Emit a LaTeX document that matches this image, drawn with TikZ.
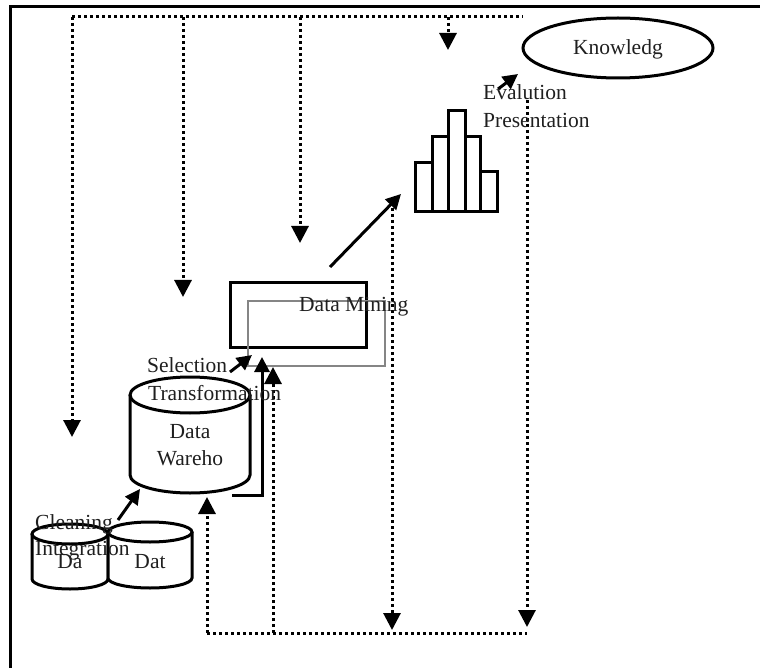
\documentclass[tikz,border=0pt]{standalone}
\usepackage{fontspec}
\setmainfont{Liberation Serif}
\usetikzlibrary{arrows.meta,shapes.geometric}

\begin{document}
\begin{tikzpicture}[x=1pt,y=-1pt,
  every node/.style={font=\fontsize{21.5}{26}\selectfont, text=black!88, inner sep=0pt},
  outline/.style={line width=3pt},
  dots/.style={line width=3pt, dash pattern=on 3pt off 3pt},
  dotarrow/.style={dots,-{Triangle[length=17pt,width=17pt]}},
  solidarrow/.style={line width=3pt,-{Triangle[length=15pt,width=15pt]}},
  graybox/.style={draw=black!48, line width=2.2pt},
  label/.style={anchor=base west},
  clabel/.style={anchor=base},
]
\useasboundingbox (0,0) rectangle (760,668);

% frame
\draw[line width=3pt] (10,668) -- (10,7) -- (760,7);

% --- data sources
\draw[outline, fill=white] (32,534) -- (32,579) arc[start angle=180,end angle=0,x radius=38,y radius=10] -- (108,534);
\draw[outline] (70,534) ellipse[x radius=38,y radius=10];
\draw[outline, fill=white] (108,532) -- (108,578) arc[start angle=180,end angle=0,x radius=42,y radius=10] -- (192,532);
\draw[outline] (150,532) ellipse[x radius=42,y radius=10];
\node[clabel] (da) at (70,568) {Da};
\node[clabel] (dat) at (150,568) {Dat};

% --- data warehouse
\draw[outline, fill=white] (130,395) -- (130,475) arc[start angle=180,end angle=0,x radius=60,y radius=18] -- (250,395);
\draw[outline] (190,395) ellipse[x radius=60,y radius=18];
\node[clabel] (dw1) at (190,438) {Data};
\node[clabel] (dw2) at (190,465) {Wareho};

% --- data mining
\node[draw, outline, minimum width=136pt, minimum height=64pt] (dm) at (298,315) {};
\node[graybox, minimum width=137pt, minimum height=65pt] (dmg) at (316.5,333.5) {};

% --- histogram
\draw[outline] (415,163) rectangle (432,212);
\draw[outline] (432,137) rectangle (448,212);
\draw[outline] (448,111) rectangle (465,212);
\draw[outline] (465,137) rectangle (480,212);
\draw[outline] (480,172) rectangle (497,212);

% --- knowledge
\node[draw, ellipse, outline, minimum width=190pt, minimum height=60pt] (kn) at (618,48) {};

% connector points
\coordinate (tl) at (72,17);
\coordinate (tr) at (523,17);
\coordinate (t1) at (183,17);
\coordinate (t2) at (300,17);
\coordinate (t3) at (448,17);
\coordinate (h1) at (72,437);
\coordinate (h2) at (183,297);
\coordinate (h3) at (300,243);
\coordinate (h4) at (448,50);
\coordinate (r1) at (527,100);
\coordinate (r1e) at (527,627);
\coordinate (r2) at (392,208);
\coordinate (r2e) at (392,630);
\coordinate (bl) at (207,633);
\coordinate (bm) at (273,633);
\coordinate (br) at (527,633);
\coordinate (dwb) at (207,497);
\coordinate (dmb) at (273,367);
\coordinate (dwr) at (232,495);
\coordinate (dwc) at (262,495);
\coordinate (dwt) at (262,357);
\coordinate (cs) at (118,520);
\coordinate (ce) at (140,489);
\coordinate (ss) at (230,372);
\coordinate (se) at (252,355);
\coordinate (ms) at (330,267);
\coordinate (me) at (401,194);
\coordinate (es) at (498,89);
\coordinate (ee) at (518,74);

% dotted feedback lines
\draw[dots] (tl) -- (tr);
\draw[dotarrow] (tl) -- (h1);
\draw[dotarrow] (t1) -- (h2);
\draw[dotarrow] (t2) -- (h3);
\draw[dotarrow] (t3) -- (h4);
\draw[dotarrow] (r1) -- (r1e);
\draw[dotarrow] (r2) -- (r2e);
\draw[dots] (bl) -- (br);
\draw[dotarrow] (bl) -- (dwb);
\draw[dotarrow] (bm) -- (dmb);

% solid process arrows
\draw[solidarrow] (cs) -- (ce);
\draw[solidarrow] (dwr) -- (dwc) -- (dwt);
\draw[solidarrow] (ss) -- (se);
\draw[solidarrow] (ms) -- (me);
\draw[solidarrow] (es) -- (ee);

% labels
\node[label] (dmt) at (299,311) {Data Mining};
\node[label] (sel) at (147,372) {Selection};
\node[label] (tra) at (148,400) {Transformation};
\node[label] (cle) at (35,529) {Cleaning};
\node[label] (int) at (35,555) {Integration};
\node[label] (eva) at (483,100) {Evalution};
\node[label] (pre) at (483,128) {Presentation};
\node[clabel] (knt) at (618,55) {Knowledg};
\end{tikzpicture}
\end{document}
